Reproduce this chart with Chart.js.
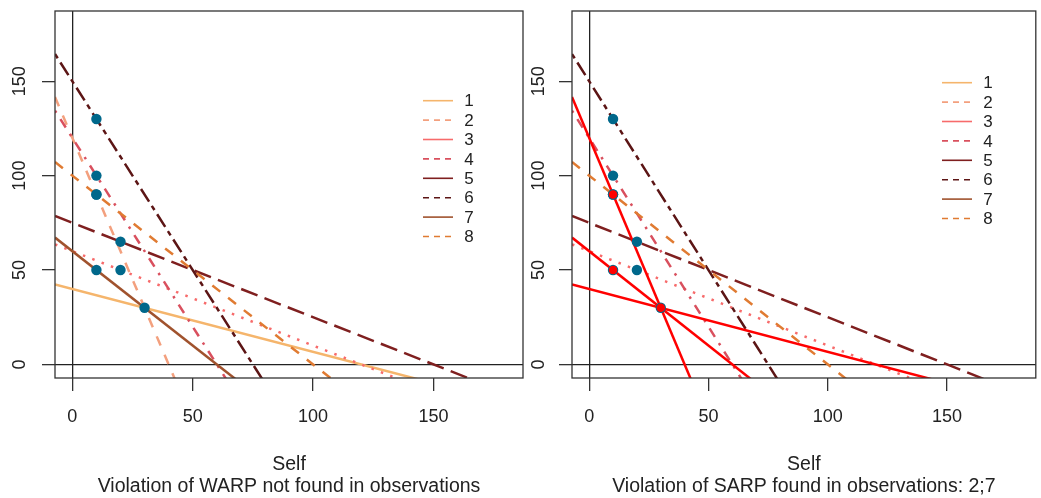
<!DOCTYPE html>
<html>
<head>
<meta charset="utf-8">
<script src="https://cdn.jsdelivr.net/npm/chart.js@4.4.1/dist/chart.umd.min.js"></script>
<style>
  html, body { margin: 0; padding: 0; background: #fff; }
  #wrap { position: relative; width: 1041px; height: 498px; overflow: hidden; }
  canvas { position: absolute; top: 0; }
  #warp { left: 0; }
  #sarp { left: 520px; }
</style>
</head>
<body>
<div id="wrap">
  <canvas id="warp" width="530" height="498"></canvas>
  <canvas id="sarp" width="521" height="498"></canvas>
</div>
<script>
// budget lines: intercept on Self (x) and on Other (y), plus the chosen bundle
const obsLabels = ['1', '2', '3', '4', '5', '6', '7', '8'];
const selfMax = [120, 40, 120, 60, 150, 75, 60, 100];
const otherMax = [40, 120, 60, 120, 75, 150, 60, 100];
const selfChoice = [30, 10, 20, 10, 20, 10, 10, 10];
const otherChoice = [30, 90, 50, 100, 65, 130, 50, 90];
const sarpObs = [1, 2, 7];          // observations drawn in red on the right
const xTicks = [0, 50, 100, 150];
const yTicks = [0, 50, 100, 150];
const axisLimits = [0, 180];
const xTitle = 'Self';
const subtitles = [
  'Violation of WARP not found in observations',
  'Violation of SARP found in observations: 2;7'
];

const lineColors = ['#F5B56C', '#F3A07E', '#F76B6B', '#D9505E', '#7F1F1F', '#5C1515', '#A0522D', '#E07B32'];
const lineTypes = ['solid', 'dashed', 'dotted', 'dotdash', 'longdash', 'twodash', 'solid', 'dashed'];
const legendTypes = ['solid', 'dashed', 'solid', 'dashed', 'solid', 'dashed', 'solid', 'dashed'];

const FONT = '"Liberation Sans", Arial, sans-serif';
const LWD = 2.5;

// R-like range: 4% extension on each side
const span = axisLimits[1] - axisLimits[0];
const lo = axisLimits[0] - 0.04 * span;
const hi = axisLimits[1] + 0.04 * span;

function dash(type, lwd) {
  const base = {
    solid: [], dashed: [4, 4], dotted: [1, 3],
    dotdash: [1, 3, 4, 3], longdash: [7, 3], twodash: [2, 2, 6, 2]
  }[type];
  return base.map(v => v * lwd);
}

// frame around the plotting region
const boxPlugin = {
  id: 'box',
  afterDraw(chart) {
    const { ctx, chartArea: a } = chart;
    ctx.save();
    ctx.strokeStyle = '#333';
    ctx.lineWidth = 1.3;
    ctx.strokeRect(a.left, a.top, a.right - a.left, a.bottom - a.top);
    ctx.restore();
  }
};

// legend drawn like R's legend(), no frame
const rLegend = {
  id: 'rLegend',
  afterDraw(chart, args, opts) {
    const ctx = chart.ctx;
    ctx.save();
    obsLabels.forEach((lab, i) => {
      const y = opts.y0 + i * opts.step;
      ctx.strokeStyle = lineColors[i];
      ctx.lineWidth = 1.6;
      ctx.setLineDash(legendTypes[i] === 'solid' ? [] : [6, 5]);
      ctx.beginPath();
      ctx.moveTo(opts.x0, y);
      ctx.lineTo(opts.x1, y);
      ctx.stroke();
      ctx.setLineDash([]);
      ctx.fillStyle = '#222';
      ctx.font = '17px ' + FONT;
      ctx.textAlign = 'center';
      ctx.textBaseline = 'middle';
      ctx.fillText(lab, opts.textX, y + 1);
    });
    ctx.restore();
  }
};

function budgetLine(i, color, type, order) {
  return {
    label: obsLabels[i],
    showLine: true,
    data: [lo, hi].map(x => ({ x: x, y: otherMax[i] * (1 - x / selfMax[i]) })),
    borderColor: color,
    borderWidth: LWD,
    borderDash: dash(type, LWD),
    borderCapStyle: 'butt',
    pointRadius: 0,
    clip: 0,
    order: order
  };
}

function makeChart(id, panel, layout) {
  const datasets = [];
  obsLabels.forEach((lab, i) => {
    const red = panel === 1 && sarpObs.includes(i + 1);
    if (red) datasets.push(budgetLine(i, '#FF0000', 'solid', 50 - i));
    else datasets.push(budgetLine(i, lineColors[i], lineTypes[i], 100 - i));
  });
  datasets.push({
    label: 'choices',
    data: selfChoice.map((x, i) => ({ x: x, y: otherChoice[i] })),
    backgroundColor: '#00688B',
    pointRadius: 5.2,
    pointBorderWidth: 0,
    order: 2
  });
  if (panel === 1) {
    datasets.push({
      label: 'violations',
      data: sarpObs.map(k => ({ x: selfChoice[k - 1], y: otherChoice[k - 1] })),
      backgroundColor: '#FF0000',
      pointRadius: 4.3,
      pointBorderWidth: 0,
      order: 1
    });
  }

  const grid = {
    color: c => (c.tick && c.tick.value === 0 ? '#222' : 'rgba(0,0,0,0)'),
    lineWidth: 1.3,
    tickColor: '#333',
    tickWidth: 1.3,
    tickLength: 13,
    drawTicks: true
  };

  return new Chart(document.getElementById(id), {
    type: 'scatter',
    data: { datasets: datasets },
    options: {
      responsive: false,
      animation: false,
      events: [],
      layout: { padding: { top: 11, right: layout.right, left: 0, bottom: 0 } },
      plugins: {
        legend: { display: false },
        tooltip: { enabled: false },
        rLegend: layout.legend
      },
      scales: {
        x: {
          type: 'linear', min: lo, max: hi,
          afterBuildTicks: s => { s.ticks = xTicks.map(v => ({ value: v })); },
          afterFit: s => { s.height = 120; s.paddingLeft = 0; s.paddingRight = 0; },
          grid: grid,
          border: { display: false },
          ticks: { font: { family: FONT, size: 18 }, color: '#222', padding: 15, maxRotation: 0, autoSkip: false },
          title: {
            display: true,
            text: [xTitle, subtitles[panel]],
            font: { family: FONT, size: 19.5, lineHeight: '22px' },
            color: '#222',
            padding: { top: 0, bottom: 0 }
          }
        },
        y: {
          type: 'linear', min: lo, max: hi,
          afterBuildTicks: s => { s.ticks = yTicks.map(v => ({ value: v })); },
          afterFit: s => { s.width = layout.yWidth; s.paddingTop = 0; s.paddingBottom = 0; },
          grid: grid,
          border: { display: false },
          ticks: {
            font: { family: FONT, size: 18 }, color: '#222',
            padding: layout.yPad, minRotation: 90, maxRotation: 90,
            crossAlign: 'center', autoSkip: false
          }
        }
      }
    },
    plugins: [boxPlugin, rLegend]
  });
}

makeChart('warp', 0, {
  right: 7, yWidth: 55, yPad: 7,
  legend: { x0: 423, x1: 453, textX: 469, y0: 100.7, step: 19.4 }
});
makeChart('sarp', 1, {
  right: 2, yWidth: 52, yPad: 5,
  legend: { x0: 422, x1: 452, textX: 468, y0: 82.7, step: 19.4 }
});
</script>
</body>
</html>
